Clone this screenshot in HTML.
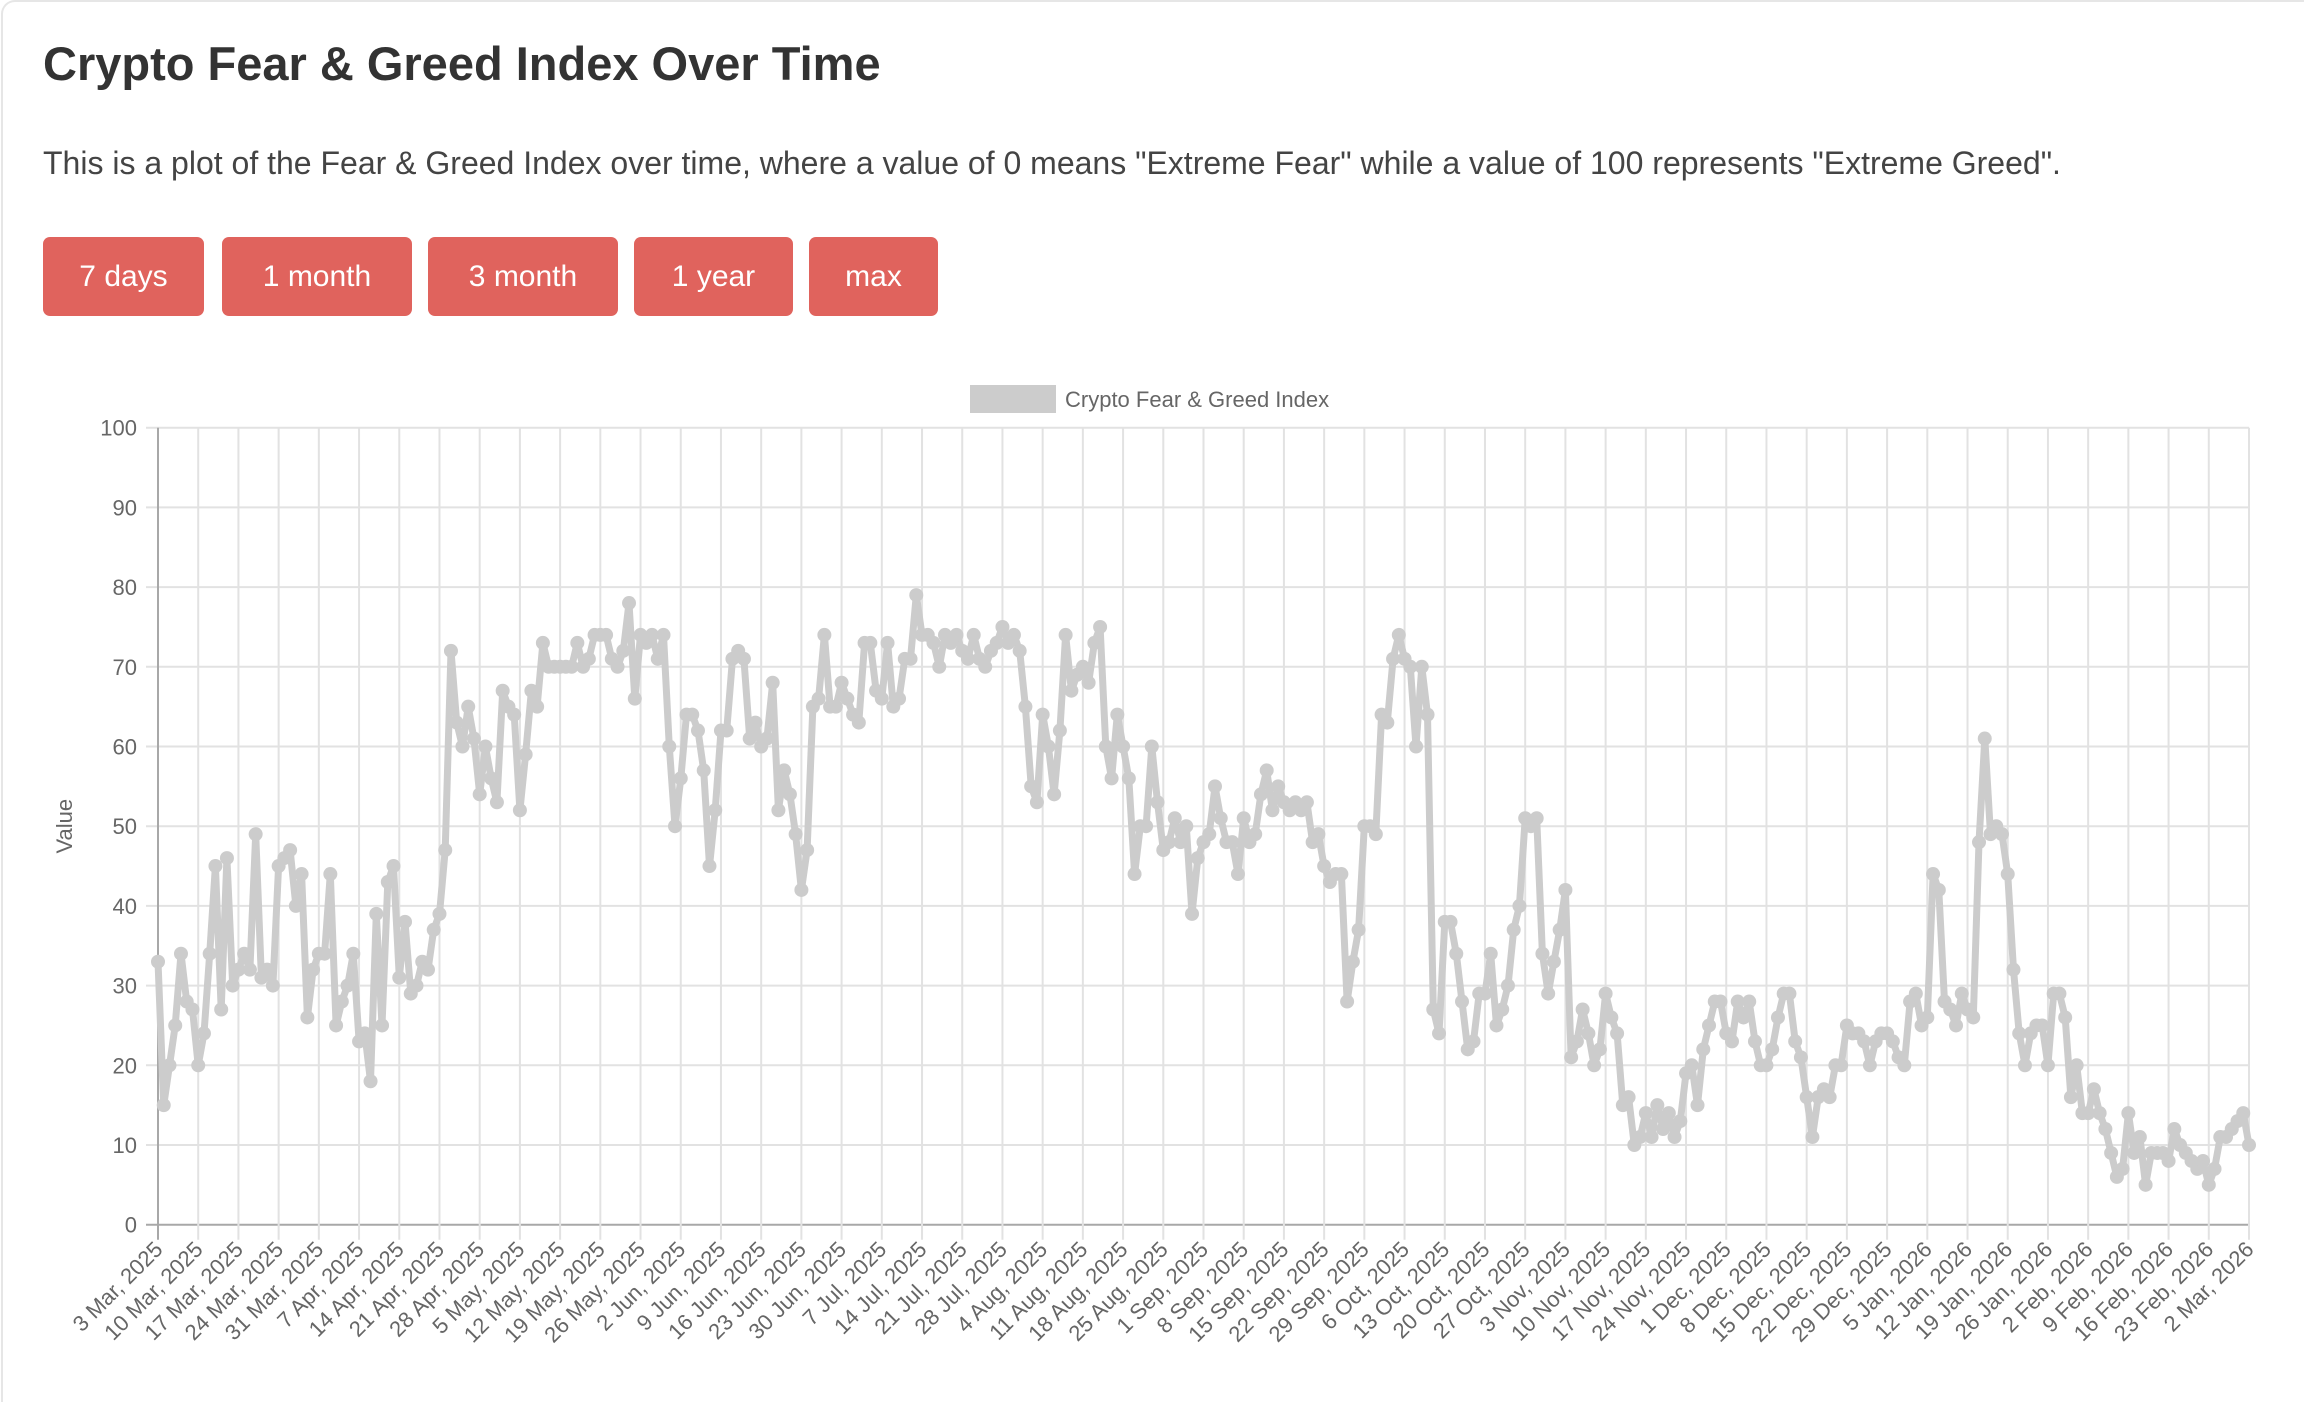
<!DOCTYPE html>
<html><head><meta charset="utf-8">
<style>
html,body{margin:0;padding:0;background:#fff;}
body{width:2304px;height:1394px;position:relative;overflow:hidden;font-family:"Liberation Sans",sans-serif;}
.card{position:absolute;left:1px;top:0;width:2310px;height:1400px;border-left:2px solid #e6e6e6;border-top:2px solid #e6e6e6;border-radius:14px 0 0 0;}
h1{position:absolute;left:43px;top:36px;margin:0;font-size:47px;font-weight:bold;color:#333;white-space:nowrap;}
p{position:absolute;left:43px;top:145px;margin:0;font-size:32px;color:#444;white-space:nowrap;}
.btn{position:absolute;top:237px;height:79px;background:#e0635d;color:#fff;border-radius:7px;font-size:30px;line-height:79px;text-align:center;}
</style></head>
<body>
<div class="card"></div>
<h1>Crypto Fear &amp; Greed Index Over Time</h1>
<p>This is a plot of the Fear &amp; Greed Index over time, where a value of 0 means "Extreme Fear" while a value of 100 represents "Extreme Greed".</p>
<div class="btn" style="left:43px;width:161px">7 days</div>
<div class="btn" style="left:222px;width:190px">1 month</div>
<div class="btn" style="left:428px;width:190px">3 month</div>
<div class="btn" style="left:634px;width:159px">1 year</div>
<div class="btn" style="left:809px;width:129px">max</div>
<svg id="chart" width="2304" height="1394" style="position:absolute;left:0;top:0"></svg>
<script>
const values = [
33,15,20,25,34,28,27, 20,24,34,45,27,46,30, 32,34,32,49,31,32,30, 45,46,47,40,44,26,32,
34,34,44,25,28,30,34, 23,24,18,39,25,43,45, 31,38,29,30,33,32,37, 39,47,72,63,60,65,61,
54,60,56,53,67,65,64, 52,59,67,65,73,70,70, 70,70,70,73,70,71,74, 74,74,71,70,72,78,66,
74,73,74,71,74,60,50, 56,64,64,62,57,45,52, 62,62,71,72,71,61,63, 60,61,68,52,57,54,49,
42,47,65,66,74,65,65, 68,66,64,63,73,73,67, 66,73,65,66,71,71,79, 74,74,73,70,74,73,74,
72,71,74,71,70,72,73, 75,73,74,72,65,55,53, 64,60,54,62,74,67,69, 70,68,73,75,60,56,64,
60,56,44,50,50,60, 53,47,48,51,48,50,39, 46,48,49,55,51,48, 48,44,51,48,49,54,57,
52,55,53,52,53,52,53, 48,49,45,43,44,44,28, 33,37,50,50,49,64,63, 71,74,71,70,60,70,64,
27,24,38,38,34,28,22, 23,29,29,34,25,27,30, 37,40,51,50,51,34,29, 33,37,42,21,23,27,24,
20,22,29,26,24,15,16, 10,11,14,11,15,12, 14,11,13,19,20,15,22, 25,28,28,24,23,28,26,
28,23,20,20,22,26,29, 29,23,21,16,11,16,17, 16,20,20,25,24,24,23, 20,23,24,24,23,21,20,
28,29,25,26,44,42,28, 27,25,29,27,26,48,61, 49,50,49,44,32,24,20, 24,25,25,20,29,29,26,
16,20,14,14,17,14,12, 9,6,7,14,9,11,5, 9,9,9,8,12,10,9,8,7,8, 5,7,11,11,12,13,14, 10
];
const tickLabels = ["3 Mar, 2025","10 Mar, 2025","17 Mar, 2025","24 Mar, 2025","31 Mar, 2025","7 Apr, 2025","14 Apr, 2025","21 Apr, 2025","28 Apr, 2025","5 May, 2025","12 May, 2025","19 May, 2025","26 May, 2025","2 Jun, 2025","9 Jun, 2025","16 Jun, 2025","23 Jun, 2025","30 Jun, 2025","7 Jul, 2025","14 Jul, 2025","21 Jul, 2025","28 Jul, 2025","4 Aug, 2025","11 Aug, 2025","18 Aug, 2025","25 Aug, 2025","1 Sep, 2025","8 Sep, 2025","15 Sep, 2025","22 Sep, 2025","29 Sep, 2025","6 Oct, 2025","13 Oct, 2025","20 Oct, 2025","27 Oct, 2025","3 Nov, 2025","10 Nov, 2025","17 Nov, 2025","24 Nov, 2025","1 Dec, 2025","8 Dec, 2025","15 Dec, 2025","22 Dec, 2025","29 Dec, 2025","5 Jan, 2026","12 Jan, 2026","19 Jan, 2026","26 Jan, 2026","2 Feb, 2026","9 Feb, 2026","16 Feb, 2026","23 Feb, 2026","2 Mar, 2026"];
const yTicks = [0,10,20,30,40,50,60,70,80,90,100];

const NS="http://www.w3.org/2000/svg";
const svg=document.getElementById('chart');
const X0=158, X1=2249, Y0=1224.7, Y1=427.7;
const n=values.length;
function xs(i){return X0+(X1-X0)*i/(n-1);}
function ys(v){return Y0-(Y0-Y1)*v/100;}
function mk(t,a){const e=document.createElementNS(NS,t);for(const k in a)e.setAttribute(k,a[k]);svg.appendChild(e);return e;}

yTicks.forEach(v=>{
  const l=mk('line',{x1:X0-12,x2:X1,y1:ys(v),y2:ys(v),stroke:v===0?'#a8a8a8':'#e2e2e2','stroke-width':2});
  
  
  const t=mk('text',{x:137,y:ys(v)+8,'text-anchor':'end','font-size':22,fill:'#666','font-family':'Liberation Sans, sans-serif'});
  t.textContent=v;
  
  
});
const nTicks=tickLabels.length;
tickLabels.forEach((lab,k)=>{
  const x=X0+(X1-X0)*k/(nTicks-1);
  const l=mk('line',{x1:x,x2:x,y1:Y1,y2:Y0+15,stroke:k===0?'#a8a8a8':'#e2e2e2','stroke-width':2});
  
  
  const t=mk('text',{x:0,y:0,'text-anchor':'end','font-size':22,fill:'#666','font-family':'Liberation Sans, sans-serif',transform:`translate(${x+6},${Y0+26}) rotate(-45)`});
  t.textContent=lab;
  
  
});
const yt=mk('text',{x:0,y:0,'text-anchor':'middle','font-size':22,fill:'#666','font-family':'Liberation Sans, sans-serif',transform:`translate(72,${(Y0+Y1)/2}) rotate(-90)`});
yt.textContent='Value';



let d='';
values.forEach((v,i)=>{d+=(i?'L':'M')+xs(i).toFixed(1)+' '+ys(v).toFixed(1);});
const line=mk('path',{d:d,fill:'none',stroke:'#cccccc','stroke-width':7,'stroke-linejoin':'round'});


values.forEach((v,i)=>{
  const c=mk('circle',{cx:xs(i),cy:ys(v),r:7,fill:'#cccccc'});
  
  
});

const lb=mk('rect',{x:970,y:385,width:86,height:28,fill:'#cccccc'});


const lt=mk('text',{x:1065,y:407,'font-size':22,fill:'#666','font-family':'Liberation Sans, sans-serif'});
lt.textContent='Crypto Fear & Greed Index';


</script>
</body></html>
